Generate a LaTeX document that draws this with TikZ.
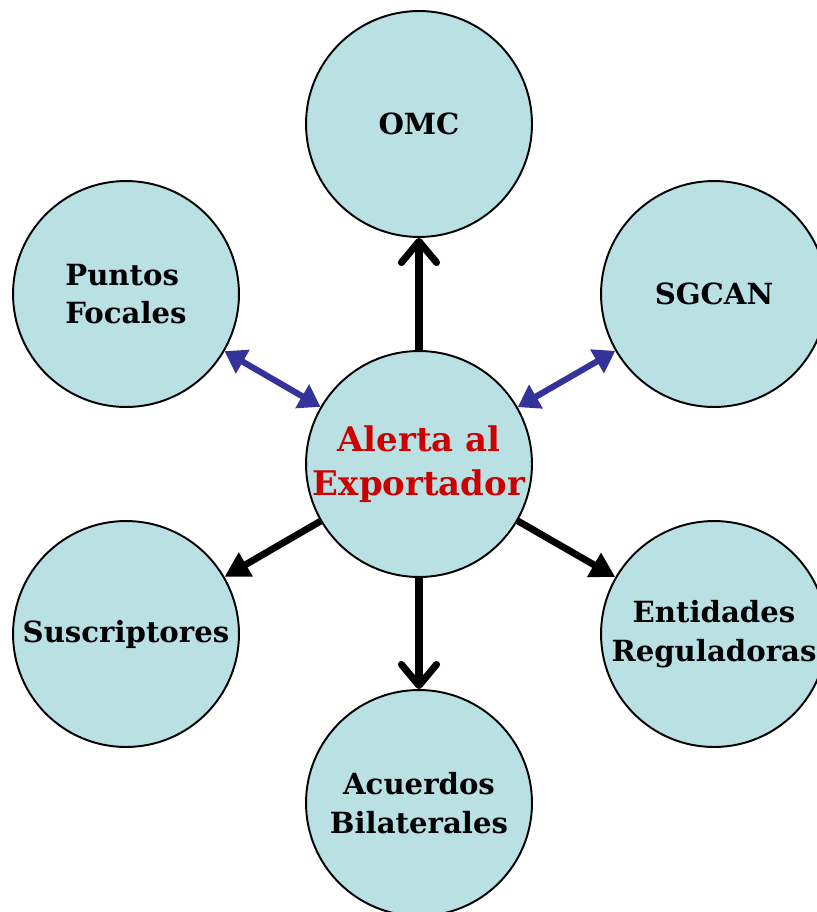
\documentclass[tikz,border=0pt]{standalone}
\usepackage{fontspec}
\setmainfont{DejaVu Serif}
\usetikzlibrary{arrows.meta}
\definecolor{bubblefill}{RGB}{185,224,227}
\definecolor{alertred}{RGB}{204,0,0}
\definecolor{linkblue}{RGB}{51,51,153}

\begin{document}
\begin{tikzpicture}[x=0.02cm,y=-0.02cm,
	bubble/.style={circle, draw=black, line width=1.1pt, fill=bubblefill, minimum size=4.52cm, inner sep=0pt, align=center, font=\bfseries\fontsize{16.6}{22}\selectfont},
	uarrow/.style={line width=4pt, -{Straight Barb[length=12pt,width=20pt,round]}},
	darrow/.style={line width=3.9pt, -{Triangle[length=14pt,width=15pt]}},
	barrow/.style={linkblue, line width=3.5pt, {Triangle[length=12pt,width=15pt]}-{Triangle[length=12pt,width=15pt]}}]
\useasboundingbox (0,0) rectangle (816,912);

\node[bubble] (omc) at (419,124) {OMC};
\node[bubble,align=left] (focales) at (126,294) {Puntos\\Focales};
\node[bubble] (sgcan) at (714,294) {SGCAN};
\node[bubble,text=alertred,font=\bfseries\fontsize{19.3}{25}\selectfont] (alerta) at (419,464) {Alerta al\\Exportador};
\node[bubble] (suscr) at (126,634) {Suscriptores};
\node[bubble] (entid) at (714,634) {Entidades\\Reguladoras};
\node[bubble] (acuerdos) at (419,803) {Acuerdos\\Bilaterales};

\draw[uarrow] (alerta) -- (omc);
\draw[uarrow] (alerta) -- (acuerdos);
\draw[darrow] (alerta) -- (suscr);
\draw[darrow] (alerta) -- (entid);
\draw[barrow] (focales) -- (alerta);
\draw[barrow] (sgcan) -- (alerta);
\end{tikzpicture}
\end{document}
